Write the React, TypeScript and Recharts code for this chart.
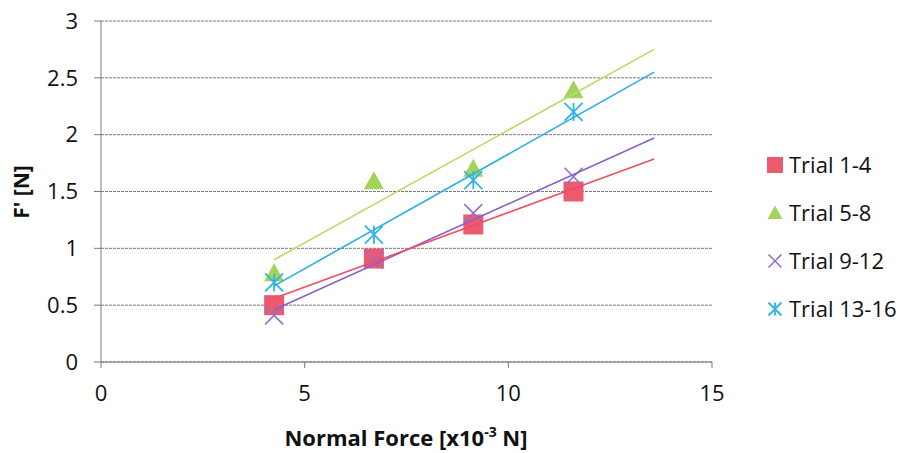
import React from 'react';
import { ScatterChart, Scatter, XAxis, YAxis, CartesianGrid } from 'recharts';

// Normal force positions (x10^-3 N) shared by every trial group
const forces = [4.25, 6.7, 9.14, 11.6];

const trial1to4 = [0.5, 0.91, 1.21, 1.5];
const trial5to8 = [0.78, 1.59, 1.7, 2.39];
const trial9to12 = [0.41, 0.9, 1.31, 1.63];
const trial13to16 = [0.7, 1.12, 1.6, 2.2];

// Linear trend lines, start/end
const trendX = [4.25, 13.58];
const trend1to4 = [0.56, 1.785];
const trend5to8 = [0.9, 2.75];
const trend9to12 = [0.46, 1.97];
const trend13to16 = [0.67, 2.55];

const xTicks = [0, 5, 10, 15];
const yTicks = [0, 0.5, 1, 1.5, 2, 2.5, 3];

const FONT = '"Open Sans", sans-serif';

const toPoints = (xs: number[], ys: number[]) => xs.map((x, i) => ({ x, y: ys[i] }));

type MarkerProps = { cx?: number; cy?: number; s?: number };

const Square = ({ cx = 0, cy = 0, s = 20 }: MarkerProps) => (
  <rect x={cx - s / 2} y={cy - s / 2} width={s} height={s} fill="#ec5a6e" />
);

const Triangle = ({ cx = 0, cy = 0, s = 20 }: MarkerProps) => {
  const h = s / 2;
  return <path d={`M${cx},${cy - h} L${cx + h},${cy + h * 0.8} L${cx - h},${cy + h * 0.8} Z`} fill="#a2d45a" />;
};

const Cross = ({ cx = 0, cy = 0, s = 18 }: MarkerProps) => {
  const h = s / 2;
  return (
    <path d={`M${cx - h},${cy - h} L${cx + h},${cy + h} M${cx + h},${cy - h} L${cx - h},${cy + h}`}
      stroke="#9472c8" strokeWidth={1.6} fill="none" />
  );
};

const Star = ({ cx = 0, cy = 0, s = 18 }: MarkerProps) => {
  const h = s / 2;
  return (
    <path d={`M${cx - h},${cy - h} L${cx + h},${cy + h} M${cx + h},${cy - h} L${cx - h},${cy + h} M${cx},${cy - h} L${cx},${cy + h}`}
      stroke="#2fb4e6" strokeWidth={1.8} fill="none" />
  );
};

const NoDot = () => <g />;

const legendItems = [
  { label: 'Trial 1-4', Marker: Square, s: 16 },
  { label: 'Trial 5-8', Marker: Triangle, s: 15 },
  { label: 'Trial 9-12', Marker: Cross, s: 13 },
  { label: 'Trial 13-16', Marker: Star, s: 13 },
];

const XLabel = () => (
  <text x={406} y={446} textAnchor="middle" fontFamily={FONT} fontSize={22} fontWeight="bold" fill="#111">
    Normal Force [x10
    <tspan fontSize={14} dy={-9}>-3</tspan>
    <tspan dy={9}> N]</tspan>
  </text>
);

const YLabel = () => (
  <text x={0} y={0} transform="translate(21,192) rotate(-90)" textAnchor="middle" dominantBaseline="central"
    fontFamily={FONT} fontSize={21} fontWeight="bold" fill="#111">
    F' [N]
  </text>
);

export default function App() {
  return (
    <div style={{ position: 'absolute', left: 0, top: 0, width: 909, height: 453, background: '#fff' }}>
      <ScatterChart width={909} height={453} margin={{ top: 21, right: 197, bottom: 61, left: 41 }}>
        <CartesianGrid vertical={false} stroke="#7a7a7a" strokeDasharray="3 1" />
        <XAxis type="number" dataKey="x" domain={[0, 15]} ticks={xTicks} allowDataOverflow height={30}
          stroke="#7a7a7a" tickSize={6} tickMargin={17}
          tick={{ fontFamily: FONT, fontSize: 22, fill: '#111' }} label={<XLabel />} />
        <YAxis type="number" dataKey="y" domain={[0, 3]} ticks={yTicks} width={60}
          stroke="#7a7a7a" tickSize={7} tickMargin={16}
          tick={{ fontFamily: FONT, fontSize: 22, fill: '#111' }} label={<YLabel />} />

        <Scatter data={toPoints(forces, trial1to4)} shape={<Square />} isAnimationActive={false} />
        <Scatter data={toPoints(forces, trial5to8)} shape={<Triangle />} isAnimationActive={false} />
        <Scatter data={toPoints(forces, trial9to12)} shape={<Cross />} isAnimationActive={false} />
        <Scatter data={toPoints(forces, trial13to16)} shape={<Star />} isAnimationActive={false} />

        <Scatter data={toPoints(trendX, trend5to8)} line={{ stroke: '#b6de62', strokeWidth: 1.6 }}
          shape={<NoDot />} isAnimationActive={false} />
        <Scatter data={toPoints(trendX, trend13to16)} line={{ stroke: '#2aafe4', strokeWidth: 1.6 }}
          shape={<NoDot />} isAnimationActive={false} />
        <Scatter data={toPoints(trendX, trend9to12)} line={{ stroke: '#8d60c8', strokeWidth: 1.6 }}
          shape={<NoDot />} isAnimationActive={false} />
        <Scatter data={toPoints(trendX, trend1to4)} line={{ stroke: '#ee4e64', strokeWidth: 1.6 }}
          shape={<NoDot />} isAnimationActive={false} />
      </ScatterChart>

      <svg width={150} height={200} style={{ position: 'absolute', left: 759, top: 140 }}>
        {legendItems.map(({ label, Marker, s }, i) => (
          <g key={label}>
            <Marker cx={16} cy={25 + i * 48} s={s} />
            <text x={30} y={25 + i * 48} dy="0.36em" fontFamily={FONT} fontSize={22} fill="#111">{label}</text>
          </g>
        ))}
      </svg>
    </div>
  );
}
